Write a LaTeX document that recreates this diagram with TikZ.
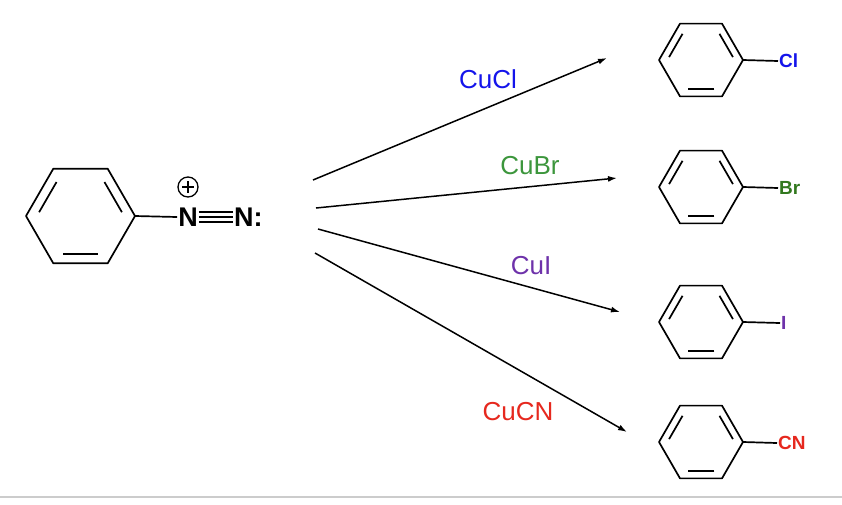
\documentclass[tikz,border=0pt]{standalone}
\usepackage{fontspec}
\setmainfont{Liberation Sans}
\usetikzlibrary{arrows.meta,calc}
\definecolor{cblue}{RGB}{20,20,235}
\definecolor{cgreen}{RGB}{60,150,60}
\definecolor{cpurple}{RGB}{110,50,170}
\definecolor{cred}{RGB}{230,40,30}
\definecolor{cgreenbr}{RGB}{50,120,30}
\tikzset{x=1pt,y=-1pt,
  bond/.style={line width=1.7pt},
  rxn/.style={line width=1.5pt,-{Latex[length=9pt,width=6pt]}},
  lab/.style={font=\fontsize{26}{28}\selectfont,inner sep=0pt},
  atom/.style={font=\bfseries\fontsize{#1}{#1}\selectfont,inner sep=1pt},
  pics/benz/.style={code={
    \foreach \a in {0,60,...,300}{\coordinate (-v\a) at (\a:#1);\coordinate (-i\a) at (\a:0.8*#1);}
    \draw[bond,line join=round] (-v0)--(-v60)--(-v120)--(-v180)--(-v240)--(-v300)--cycle;
    \foreach \p/\q in {0/300,180/240,60/120}{
      \draw[bond] ($(-i\p)!0.1!(-i\q)$) -- ($(-i\q)!0.1!(-i\p)$);}
  }}}
\begin{document}
\begin{tikzpicture}
\useasboundingbox (0,0) rectangle (842,504);
\fill[white] (0,0) rectangle (842,504);
\draw[gray!40,line width=1.5pt] (0,497) -- (842,497);
% diazonium
\pic (b0) at (80.5,216) {benz=54.5};
\node[atom=27] (n1) at (188,217) {N};
\node[atom=27,anchor=west] (n2) at (233,217) {N:};
\node[circle,draw,line width=1.3pt,inner sep=0pt,minimum size=20pt] (plus) at (188,187) {};
\draw[line width=1.3pt] ($(plus)+(-6,0)$) -- ($(plus)+(6,0)$) ($(plus)+(0,-6)$) -- ($(plus)+(0,6)$);
\draw[bond] (b0-v0) -- (n1.west);
\draw[bond] ($(n1.east)+(0,0)$) -- ($(n2.west)+(0,0)$);
\draw[bond] ($(n1.east)+(0,-5)$) -- ($(n2.west)+(0,-5)$);
\draw[bond] ($(n1.east)+(0,5)$) -- ($(n2.west)+(0,5)$);
% products
\pic (p1) at (701,60) {benz=42};
\node[atom=19,text=cblue,anchor=west] (cl) at (778,61) {Cl};
\draw[bond] (p1-v0) -- (cl.west);
\pic (p2) at (701,187) {benz=42};
\node[atom=19,text=cgreenbr,anchor=west] (br) at (778,188) {Br};
\draw[bond] (p2-v0) -- (br.west);
\pic (p3) at (701,322) {benz=42};
\node[atom=19,text=cpurple,anchor=west] (io) at (780,323) {I};
\draw[bond] (p3-v0) -- (io.west);
\pic (p4) at (701,442) {benz=42};
\node[atom=19,text=cred,anchor=west] (cn) at (777,443) {CN};
\draw[bond] (p4-v0) -- (cn.west);
% arrows
\coordinate (s1) at (313,180); \coordinate (e1) at (607,58);
\coordinate (s2) at (316,208); \coordinate (e2) at (617,178);
\coordinate (s3) at (318,229); \coordinate (e3) at (620,312);
\coordinate (s4) at (315,253); \coordinate (e4) at (627,432);
\draw[rxn] (s1) -- (e1);
\draw[rxn] (s2) -- (e2);
\draw[rxn] (s3) -- (e3);
\draw[rxn] (s4) -- (e4);
\node[lab,text=cblue] (l1) at (488,79) {CuCl};
\node[lab,text=cgreen] (l2) at (530,166) {CuBr};
\node[lab,text=cpurple] (l3) at (531,266) {CuI};
\node[lab,text=cred] (l4) at (518,412) {CuCN};
\end{tikzpicture}
\end{document}
